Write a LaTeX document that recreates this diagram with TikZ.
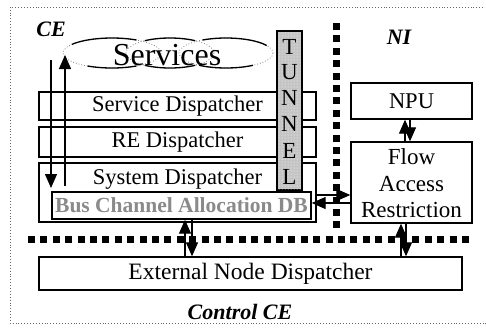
\documentclass[tikz,border=0pt]{standalone}
\usepackage{fontspec}
\setmainfont{Liberation Serif}
\usetikzlibrary{arrows.meta,patterns}
\definecolor{dbgray}{HTML}{8A8A8A}
\definecolor{tungray}{HTML}{C4C4C4}
\tikzset{
  box/.style={draw=black,line width=1.4pt,fill=white,inner sep=0pt,font=\fontsize{22.5}{26}\selectfont},
  arr/.style={line width=1.3pt,-{Triangle[width=12pt,length=14pt]}},
  sep/.style={line width=7pt,dash pattern=on 7pt off 5.4pt},
  lbl/.style={font=\fontsize{22}{26}\selectfont\bfseries\itshape},
  tl/.style={font=\fontsize{23}{26}\selectfont,inner sep=0pt},
  cloudsolid/.style={line width=1.3pt},
  clouddot/.style={draw=gray,line width=0.8pt,dotted}
}
\begin{document}
\begin{tikzpicture}[x=1pt,y=-1pt]
\useasboundingbox (0,0) rectangle (486,327);
% outer border
\draw[gray!80!black,line width=0.9pt,dotted] (483,7) -- (10,7) -- (10,323) -- (486,323);
% labels
\node[lbl] (ce) at (51,29) {CE};
\node[lbl] (ni) at (399,37) {NI};
\node[lbl] (cce) at (240,312) {Control CE};
% separators
\coordinate (hs1) at (28,239);
\coordinate (hs2) at (470,239);
\coordinate (vs1) at (336,23);
\coordinate (vs2) at (336,232);
\draw[sep] (hs1) -- (hs2);
\draw[sep] (vs1) -- (vs2);
% services cloud
\draw[clouddot] (112,53) ellipse [x radius=49,y radius=15];
\draw[clouddot] (170,53) ellipse [x radius=44,y radius=15];
\draw[clouddot] (226,53) ellipse [x radius=47,y radius=15];
\draw[cloudsolid] (112,53) ++(60:49 and 15) arc[start angle=60,end angle=120,x radius=49,y radius=15];
\draw[cloudsolid] (170,53) ++(55:44 and 15) arc[start angle=55,end angle=125,x radius=44,y radius=15];
\draw[cloudsolid] (226,53) ++(55:47 and 15) arc[start angle=55,end angle=125,x radius=47,y radius=15];
\draw[cloudsolid] (112,53) ++(-60:49 and 15) arc[start angle=-60,end angle=-145,x radius=49,y radius=15];
\draw[cloudsolid] (170,53) ++(-55:44 and 15) arc[start angle=-55,end angle=-125,x radius=44,y radius=15];
\draw[cloudsolid] (226,53) ++(-30:47 and 15) arc[start angle=-30,end angle=-120,x radius=47,y radius=15];
\node[font=\fontsize{32}{36}\selectfont,inner sep=0pt] (svc) at (167,55) {Services};
% CE boxes
\node[box,minimum width=277pt,minimum height=28pt] (sd) at (177.5,106) {Service Dispatcher};
\node[box,minimum width=277pt,minimum height=30pt] (re) at (177.5,142) {RE Dispatcher};
\node[box,minimum width=277pt,minimum height=59pt] (sys) at (177.5,192.5) {};
\node[tl,font=\fontsize{22.5}{26}\selectfont] (syst) at (177.5,179) {System Dispatcher};
\node[box,minimum width=259pt,minimum height=27pt,text=dbgray,font=\fontsize{21.5}{25}\selectfont\bfseries] (db) at (181.5,205.5) {Bus Channel Allocation DB};
% tunnel
\node[draw=black,line width=1.4pt,fill=tungray,minimum width=25pt,minimum height=159pt,inner sep=0pt] (tun) at (289.5,110.5) {};
\fill[pattern=dots,pattern color=white] (tun.north west) rectangle (tun.south east);
\draw[line width=1.4pt] (tun.north west) rectangle (tun.south east);
\node[tl] (t1) at (289.5,47) {T};
\node[tl] (t2) at (289.5,72) {U};
\node[tl] (t3) at (289.5,98) {N};
\node[tl] (t4) at (289.5,124) {N};
\node[tl] (t5) at (289.5,151) {E};
\node[tl] (t6) at (289.5,177) {L};
% NI boxes
\node[box,minimum width=121pt,minimum height=36pt] (npu) at (411.5,101) {NPU};
\node[box,minimum width=121pt,minimum height=81pt,align=center] (flow) at (411.5,182.5) {};
\node[tl] (f1) at (411.5,157) {Flow};
\node[tl] (f2) at (411.5,184) {Access};
\node[tl] (f3) at (411.5,210) {Restriction};
% external
\node[box,minimum width=423pt,minimum height=33pt,font=\fontsize{23.5}{26}\selectfont] (ext) at (250.5,273.5) {External Node Dispatcher};
% helper coordinates
\coordinate (a1s) at (51,60);
\coordinate (a1e) at (51,188);
\coordinate (a2s) at (65,186);
\coordinate (a2e) at (65,55);
\coordinate (x405) at (405,0);
\coordinate (x410) at (410,0);
\coordinate (x185) at (185,0);
\coordinate (x192) at (192,0);
\coordinate (x401) at (401,0);
\coordinate (x406) at (406,0);
\coordinate (y195) at (0,195);
\coordinate (y203) at (0,203);
% arrows
\draw[arr] (a1s) -- (a1e);
\draw[arr] (a2s) -- (a2e);
\draw[arr] (flow.north -| x405) -- (npu.south -| x405);
\draw[arr] (npu.south -| x410) -- (flow.north -| x410);
\draw[arr] (sys.east |- y195) -- (flow.west |- y195);
\draw[arr] (flow.west |- y203) -- (db.east |- y203);
\draw[arr] (ext.north -| x185) -- (db.south -| x185);
\draw[arr] (db.south -| x192) -- (ext.north -| x192);
\draw[arr] (ext.north -| x401) -- (flow.south -| x401);
\draw[arr] (flow.south -| x406) -- (ext.north -| x406);
\end{tikzpicture}
\end{document}
